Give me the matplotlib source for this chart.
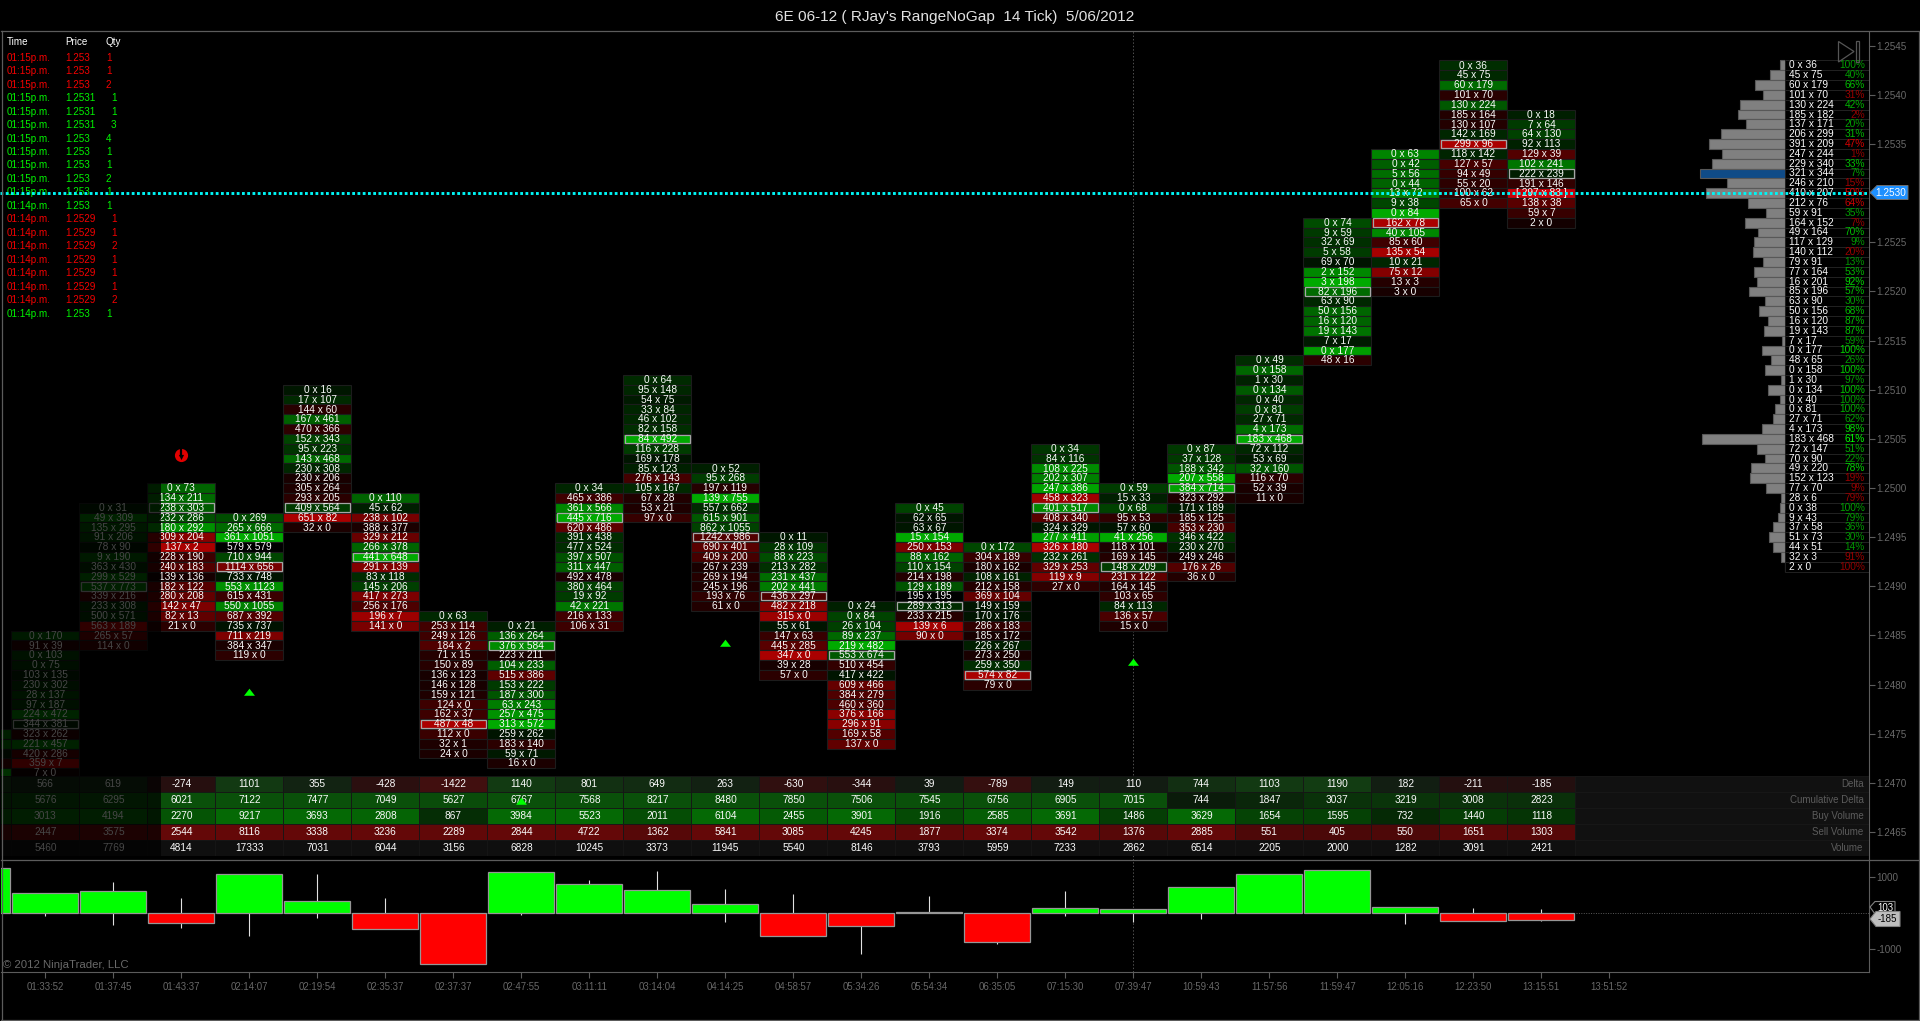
import matplotlib
matplotlib.use("Agg")
import matplotlib.pyplot as plt
from matplotlib.lines import Line2D
from matplotlib.patches import Polygon, Rectangle
from matplotlib.transforms import Affine2D, blended_transform_factory

plt.rcParams['font.family'] = ['Liberation Sans', 'DejaVu Sans']

W, H = 1920, 1021
TICK = 0.0001

# ---------- data ----------
title = "6E 06-12 ( RJay's RangeNoGap  14 Tick)  5/06/2012"

col_top_price = [1.2475, 1.2485, 1.2498, 1.2500, 1.2497, 1.2510, 1.2499, 1.2487, 1.2486, 1.2500, 1.2511, 1.2502,
                 1.2495, 1.2488, 1.2498, 1.2494, 1.2504, 1.2500, 1.2504, 1.2513, 1.2527, 1.2534, 1.2543, 1.2538]

col_m1 = "20x80 30x90 40x45 60x30 10x110"
col_0 = "0x170 91x39 0x103 0x75 103x135 230x302 28x137 97x187 224x472 344x381 323x262 221x457 420x286 359x7 7x0"
col_1 = "0x31 49x309 135x295 91x206 78x90 9x190 363x430 299x529 537x773 339x216 233x308 500x571 563x189 265x57 114x0"
col_2 = "0x73 134x211 238x303 232x286 180x292 309x204 137x2 228x190 240x183 139x136 182x122 280x208 142x47 82x13 21x0"
col_3 = "0x269 265x666 361x1051 579x579 710x944 1114x656 733x748 553x1123 615x431 550x1055 687x392 735x737 711x219 384x347 119x0"
col_4 = "0x16 17x107 144x60 167x461 470x366 152x343 95x223 143x468 230x308 230x206 305x264 293x205 409x564 651x82 32x0"
col_5 = "0x110 45x62 238x102 388x377 329x212 266x378 441x648 291x139 83x118 145x206 417x273 256x176 196x7 141x0"
col_6 = "0x63 253x114 249x126 184x2 71x15 150x89 136x123 146x128 159x121 124x0 162x37 487x48 112x0 32x1 24x0"
col_7 = "0x21 136x264 376x584 223x211 104x233 515x386 153x222 187x300 63x243 257x475 313x572 259x262 183x140 59x71 16x0"
col_8 = "0x34 465x386 361x566 445x716 620x486 391x438 477x524 397x507 311x447 492x478 380x464 19x92 42x221 216x133 106x31"
col_9 = "0x64 95x148 54x75 33x84 46x102 82x158 84x492 116x228 169x178 85x123 276x143 105x167 67x28 53x21 97x0"
col_10 = "0x52 95x268 197x119 139x755 557x662 615x901 862x1055 1242x986 690x401 409x200 267x239 269x194 245x196 193x76 61x0"
col_11 = "0x11 28x109 88x223 213x282 231x437 202x441 436x297 482x218 315x0 55x61 147x63 445x285 347x0 39x28 57x0"
col_12 = "0x24 0x84 26x104 89x237 219x482 553x674 510x454 417x422 609x466 384x279 460x360 376x166 296x91 169x58 137x0"
col_13 = "0x45 62x65 63x67 15x154 250x153 88x162 110x154 214x198 129x189 195x195 289x313 233x215 139x6 90x0"
col_14 = "0x172 304x189 180x162 108x161 212x158 369x104 149x159 170x176 286x183 185x172 226x267 273x250 259x350 574x82 79x0"
col_15 = "0x34 84x116 108x225 202x307 247x386 458x323 401x517 408x340 324x329 277x411 326x180 232x261 329x253 119x9 27x0"
col_16 = "0x59 15x33 0x68 95x53 57x60 41x256 118x101 169x145 148x209 231x122 164x145 103x65 84x113 136x57 15x0"
col_17 = "0x87 37x128 188x342 207x558 384x714 323x292 171x189 185x125 353x230 346x422 230x270 249x246 176x26 36x0"
col_18 = "0x49 0x158 1x30 0x134 0x40 0x81 27x71 4x173 183x468 72x112 53x69 32x160 116x70 52x39 11x0"
col_19 = "0x74 9x59 32x69 5x58 69x70 2x152 3x198 82x196 63x90 50x156 16x120 19x143 7x17 0x177 48x16"
col_20 = "0x63 0x42 5x56 0x44 13x72 9x38 0x84 162x78 40x105 85x60 135x54 10x21 75x12 13x3 3x0"
col_21 = "0x36 45x75 60x179 101x70 130x224 185x164 130x107 142x169 299x96 118x142 127x57 94x49 55x20 100x62 65x0"
col_22 = "0x18 7x64 64x130 92x113 129x39 102x241 222x239 191x146 297x83 138x38 59x7 2x0"
ladders = [col_m1, col_0, col_1, col_2, col_3, col_4, col_5, col_6, col_7, col_8, col_9, col_10, col_11,
           col_12, col_13, col_14, col_15, col_16, col_17, col_18, col_19, col_20, col_21, col_22]

profile_top_price = 1.2543
profile_bid = [0, 45, 60, 101, 130, 185, 137, 206, 391, 247, 229, 321, 246, 410, 212, 59, 164, 49, 117, 140, 79, 77, 16,
               85, 63, 50, 16, 19, 7, 0, 48, 0, 1, 0, 0, 0, 27, 4, 183, 72, 70, 49, 152, 77, 28, 0, 9, 37, 51, 44, 32, 2]
profile_ask = [36, 75, 179, 70, 224, 182, 171, 299, 209, 244, 340, 344, 210, 207, 76, 91, 152, 164, 129, 112, 91, 164, 201,
               196, 90, 156, 120, 143, 17, 177, 65, 158, 30, 134, 40, 81, 71, 173, 468, 147, 90, 220, 123, 70, 6, 38, 43, 58, 73, 51, 3, 0]

delta = [1250, 566, 619, -274, 1101, 355, -428, -1422, 1140, 801, 649, 263, -630, -344, 39, -789, 149, 110, 744, 1103, 1190, 182, -211, -185]
delta_high = [1250, 566, 861, 417, 1101, 1083, 417, 0, 1140, 917, 1176, 667, 528, 0, 481, 0, 620, 110, 744, 1103, 1190, 182, 139, 111]
delta_low = [0, -65, -314, -398, -620, -120, -428, -1422, -37, 0, 0, -240, -630, -1120, 0, -852, -74, -240, -148, 0, 0, -287, -211, -213]
cum_delta = [5110, 5676, 6295, 6021, 7122, 7477, 7049, 5627, 6767, 7568, 8217, 8480, 7850, 7506, 7545, 6756, 6905, 7015, 744, 1847, 3037, 3219, 3008, 2823]
buy_volume = [2500, 3013, 4194, 2270, 9217, 3693, 2808, 867, 3984, 5523, 2011, 6104, 2455, 3901, 1916, 2585, 3691, 1486, 3629, 1654, 1595, 732, 1440, 1118]
sell_volume = [1250, 2447, 3575, 2544, 8116, 3338, 3236, 2289, 2844, 4722, 1362, 5841, 3085, 4245, 1877, 3374, 3542, 1376, 2885, 551, 405, 550, 1651, 1303]
total_volume = [3750, 5460, 7769, 4814, 17333, 7031, 6044, 3156, 6828, 10245, 3373, 11945, 5540, 8146, 3793, 5959, 7233, 2862, 6514, 2205, 2000, 1282, 3091, 2421]
table_labels = ["Delta", "Cumulative Delta", "Buy Volume", "Sell Volume", "Volume"]

time_labels = ["01:33:52", "01:37:45", "01:43:37", "02:14:07", "02:19:54", "02:35:37", "02:37:37", "02:47:55", "03:11:11",
               "03:14:04", "04:14:25", "04:58:57", "05:34:26", "05:54:34", "06:35:05", "07:15:30", "07:39:47", "10:59:43",
               "11:57:56", "11:59:47", "12:05:16", "12:23:50", "13:15:51", "13:51:52"]

trade_times = ["01:15p.m."] * 11 + ["01:14p.m."] * 9
trade_prices = ["1.253", "1.253", "1.253", "1.2531", "1.2531", "1.2531", "1.253", "1.253", "1.253", "1.253", "1.253",
                "1.253", "1.2529", "1.2529", "1.2529", "1.2529", "1.2529", "1.2529", "1.2529", "1.253"]
trade_qty = [1, 1, 2, 1, 1, 3, 4, 1, 1, 2, 1, 1, 1, 1, 2, 1, 1, 1, 2, 1]
trade_buy = [0, 0, 0, 1, 1, 1, 1, 1, 1, 1, 1, 1, 0, 0, 0, 0, 0, 0, 0, 1]

last_price = 1.2530
up_signal_cols = [3, 10, 16]
up_signal_prices = [1.24793, 1.24842, 1.24823]
down_signal_col = 2
down_signal_price = 1.25034
price_ticks = [1.2545, 1.2540, 1.2535, 1.2530, 1.2525, 1.2520, 1.2515, 1.2510, 1.2505, 1.2500, 1.2495, 1.2490,
               1.2485, 1.2480, 1.2475, 1.2470, 1.2465]
delta_ticks = [1000, -1000]

# ---------- geometry ----------
X0, XSTEP = 45.4, 68.0
Y0, YSTEP = 45.7, 9.83
L, R = 1.0, 1868.5
TOP, SEP, PANEL_BOTTOM = 31.5, 859.5, 971.5
FS = 7.3
UP_TRIANGLE = [(-1, -0.6), (1, -0.6), (0, 0.7)]


def col_of(px):
    return (px - X0) / XSTEP


def price_of(py):
    return 1.2545 - (py - Y0) / YSTEP * TICK


def rect(px_left, py_top, px_right, py_bottom):
    return [px_left / W, 1 - py_bottom / H, (px_right - px_left) / W, (py_bottom - py_top) / H]


def grey(v):
    return (v / 255, v / 255, v / 255)


def rgb(r, g, b):
    return (r / 255, g / 255, b / 255)


BG = "black"
TXT = rgb(250, 250, 250)
AX = grey(92)
LBL = grey(104)
CELL_EDGE = grey(28)

fig = plt.figure(figsize=(W / 100, H / 100), dpi=100, facecolor=BG)
to_px = Affine2D().scale(1 / W, -1 / H).translate(0, 1) + fig.transFigure

# ---------- main price axes ----------
ax = fig.add_axes(rect(L, TOP, R, SEP), facecolor=BG, zorder=1)
ax.set_xlim(col_of(L), col_of(R))
ax.set_ylim(price_of(SEP), price_of(TOP))
ax.set_xticks([])
ax.set_yticks(price_ticks)
ax.set_yticklabels([f"{p:.4f}" for p in price_ticks], fontsize=7.1, color=LBL)
ax.yaxis.tick_right()
ax.tick_params(axis='y', length=4.5, width=0.8, color=AX, pad=1.0)
for s in ["left", "top", "bottom"]:
    ax.spines[s].set_visible(False)
ax.spines["right"].set_color(AX)
ax.axvline(16, color=grey(80), lw=0.7, ls=(0, (1.5, 2)), zorder=0.5)


def cell_colour(b, a, m):
    d = a - b
    if d == 0 or m == 0:
        return (0, 0, 0)
    v = (18 + 152 * abs(d) / m) / 255
    return (0, v, 0) if d > 0 else (v, 0, 0)


for i, text in enumerate(ladders):
    col = i - 1
    pairs = [tuple(int(v) for v in r.split("x")) for r in text.split()]
    m = max(abs(a - b) for b, a in pairs)
    vol = [a + b for b, a in pairs]
    poc = vol.index(max(vol))
    for j, (b, a) in enumerate(pairs):
        p = col_top_price[i] - j * TICK
        is_last = col == 22 and abs(p - last_price) < TICK / 2
        fc = rgb(200, 0, 10) if is_last else cell_colour(b, a, m)
        ax.bar(col, TICK, bottom=p - TICK / 2, width=1.0, color=fc, edgecolor=CELL_EDGE, linewidth=0.8, zorder=2)
        if col >= 0:
            label = f"[ {b} x {a} ]" if is_last else f"{b} x {a}"
            ax.text(col, p - 0.02 * TICK, label, ha="center", va="center", color=TXT, fontsize=FS, zorder=5)
    if col >= 0:
        pp = col_top_price[i] - poc * TICK
        ax.bar(col, TICK * 0.86, bottom=pp - TICK * 0.43, width=0.965, color="none",
               edgecolor=grey(165), linewidth=0.9, zorder=4)

ax.scatter(up_signal_cols, up_signal_prices, marker=UP_TRIANGLE, s=62, color=rgb(0, 255, 0), linewidths=0, zorder=6)
ax.scatter([down_signal_col], [down_signal_price], marker="o", s=90, color=rgb(225, 0, 0), linewidths=0, zorder=6)
ax.scatter([down_signal_col], [down_signal_price - 0.25 * TICK], marker="v", s=14, color="black", linewidths=0, zorder=7)
ax.vlines(down_signal_col, down_signal_price - 0.2 * TICK, down_signal_price + 0.75 * TICK, color="black", lw=1.6, zorder=7)

ax.add_patch(Rectangle((col_of(L), price_of(SEP)), col_of(161) - col_of(L), price_of(TOP) - price_of(SEP),
                       facecolor="black", alpha=0.72, edgecolor="none", zorder=5.5))

# ---------- volume profile ----------
ax_prof = fig.add_axes(rect(1620, TOP, 1785, SEP), zorder=2)
ax_prof.patch.set_visible(False)
ax_prof.set_axis_off()
ax_prof.set_xlim(165 / 0.1275, 0)
ax_prof.set_ylim(ax.get_ylim())
prof_prices = [profile_top_price - k * TICK for k in range(len(profile_bid))]
prof_vol = [b + a for b, a in zip(profile_bid, profile_ask)]
prof_cols = [rgb(15, 75, 135) if v == max(prof_vol) else grey(128) for v in prof_vol]
ax_prof.barh(prof_prices, prof_vol, height=TICK, color=prof_cols, edgecolor=grey(88), linewidth=0.8)

ax_ptxt = fig.add_axes(rect(1785, TOP, R, SEP), zorder=2)
ax_ptxt.patch.set_visible(False)
ax_ptxt.set_axis_off()
ax_ptxt.set_xlim(0, R - 1785)
ax_ptxt.set_ylim(ax.get_ylim())
ax_ptxt.barh(prof_prices, R - 1785, left=0, height=TICK, color="black", edgecolor=grey(34), linewidth=0.7)
max_d = max(abs(a - b) for b, a in zip(profile_bid, profile_ask))
for p, b, a in zip(prof_prices, profile_bid, profile_ask):
    ax_ptxt.text(4, p, f"{b} x {a}", ha="left", va="center", fontsize=FS, color=TXT)
    pct = round(abs(a - b) / max(a, b) * 100)
    v = (145 + 110 * abs(a - b) / max_d) / 255
    ax_ptxt.text(80, p, f"{pct}%", ha="right", va="center", fontsize=FS,
                 color=(0, v, 0) if a > b else (v, 0, 0))

# ---------- table ----------
ax_tab = fig.add_axes(rect(L, 775.6, R, 855.6), zorder=3)
ax_tab.patch.set_visible(False)
ax_tab.set_axis_off()
ax_tab.set_xlim(ax.get_xlim())
ax_tab.set_ylim(5, 0)


def tab_colour(row, v):
    if row == 0:
        s = (25 + 35 * min(1, abs(v) / 1200)) / 255
        return (0.07, s, 0.07) if v >= 0 else (s + 0.02, 0.06, 0.06)
    if row == 1:
        return (0.04, (20 + 60 * min(1, abs(v) / 6000)) / 255, 0.04)
    if row == 2:
        return (0.02, (20 + 85 * min(1, v / 3000)) / 255, 0.02)
    if row == 3:
        return ((70 + 30 * min(1, v / 2500)) / 255, 0.03, 0.03)
    return grey(15)


for r, series in enumerate([delta, cum_delta, buy_volume, sell_volume, total_volume]):
    for k, v in enumerate(series):
        ax_tab.bar(k - 1, 1, bottom=r, width=1.0, color=tab_colour(r, v), edgecolor=grey(22), linewidth=0.6, zorder=2)
        if k > 0:
            ax_tab.text(k - 1, r + 0.5, str(v), ha="center", va="center", color=TXT, fontsize=FS, zorder=3)
    ax_tab.bar((22.5 + col_of(R)) / 2, 1, bottom=r, width=col_of(R) - 22.5, color=grey(17), edgecolor=grey(24), linewidth=0.6, zorder=2)
    ax_tab.text(col_of(1863.5), r + 0.5, table_labels[r], ha="right", va="center", color=grey(92), fontsize=7.0, zorder=3)
ax_tab.add_patch(Rectangle((col_of(L), 0), col_of(161) - col_of(L), 5, facecolor="black", alpha=0.72, edgecolor="none", zorder=4))
ax_tab.scatter([7], [1.6], marker=UP_TRIANGLE, s=62, color=rgb(0, 255, 0), linewidths=0, zorder=5)

# ---------- delta panel ----------
ax_d = fig.add_axes(rect(L, SEP, R, PANEL_BOTTOM), facecolor=BG, zorder=1)
ax_d.set_xlim(ax.get_xlim())
ax_d.set_ylim((913.3 - PANEL_BOTTOM) / 36 * 1000, (913.3 - SEP) / 36 * 1000)
cols = list(range(-1, 23))
ax_d.axhline(0, color=grey(90), lw=0.7, ls=(0, (1, 1.5)), zorder=1)
ax_d.axvline(16, color=grey(80), lw=0.7, ls=(0, (1.5, 2)), zorder=0.5)
ax_d.vlines(cols, delta_low, delta_high, color=grey(225), lw=0.8, zorder=2)
ax_d.bar(cols, delta, width=66 / 68, color=[rgb(0, 255, 0) if d > 0 else rgb(255, 0, 0) for d in delta],
         edgecolor=grey(150), linewidth=0.9, zorder=3)
ax_d.set_xticks(range(len(time_labels)))
ax_d.set_xticklabels(time_labels, fontsize=6.9, color=LBL)
ax_d.set_yticks(delta_ticks)
ax_d.set_yticklabels([str(t) for t in delta_ticks], fontsize=7.1, color=LBL)
ax_d.yaxis.tick_right()
ax_d.tick_params(axis='y', length=4.5, width=0.8, color=AX, pad=1.0)
ax_d.tick_params(axis='x', length=4.5, width=0.8, color=AX, pad=3)
for s in ["left", "top"]:
    ax_d.spines[s].set_visible(False)
ax_d.spines["right"].set_color(AX)
ax_d.spines["bottom"].set_color(AX)

# ---------- title, copyright, trade list ----------
fig.text(955 / W, 1 - 16.5 / H, title, ha="center", va="center", color=grey(225), fontsize=11.1)
fig.text(3 / W, 1 - 965 / H, "\u00a9 2012 NinjaTrader, LLC", ha="left", va="center", color=grey(105), fontsize=8.2, zorder=6)

fig.text(7 / W, 1 - 42 / H, "Time", color="white", fontsize=7.1, va="center")
fig.text(65 / W, 1 - 42 / H, "Price", color="white", fontsize=7.1, va="center")
fig.text(106 / W, 1 - 42 / H, "Qty", color="white", fontsize=7.1, va="center")
for i, (t, p, q, b) in enumerate(zip(trade_times, trade_prices, trade_qty, trade_buy)):
    y = 1 - (57.7 + 13.47 * i) / H
    c = rgb(0, 245, 0) if b else rgb(245, 0, 0)
    fig.text(7 / W, y, t, color=c, fontsize=7.1, va="center")
    fig.text(65 / W, y, p, color=c, fontsize=7.1, va="center")
    fig.text((111 if len(p) > 5 else 106) / W, y, str(q), color=c, fontsize=7.1, va="center")

# ---------- last price line and chrome ----------
blend = blended_transform_factory(fig.transFigure, ax.transData)
fig.add_artist(Line2D([0, R / W], [last_price, last_price], transform=blend, color=rgb(0, 245, 245), lw=2.1,
                      ls=(0, (0.95, 0.85)), dash_capstyle="butt", zorder=5))
for xs, ys in [([1, 1918], [31.5, 31.5]), ([1.5, 1.5], [31, 1020]), ([1918.5, 1918.5], [31, 1020]),
               ([1, 1918], [1020, 1020]), ([R, 1918], [SEP, SEP]), ([1, R], [SEP, SEP])]:
    fig.add_artist(Line2D(xs, ys, transform=to_px, color=AX, lw=0.9, zorder=6))

fig.add_artist(Polygon([(1870, 192.5), (1877, 185.5), (1908, 185.5), (1908, 199.5), (1877, 199.5)], closed=True,
                       transform=to_px, facecolor=rgb(30, 144, 255), edgecolor=grey(110), lw=0.7, zorder=7))
fig.text(1891 / W, 1 - 192.5 / H, f"{last_price:.4f}", color="white", fontsize=7.2, ha="center", va="center", zorder=8)

fig.add_artist(Polygon([(1838.5, 41.5), (1854, 51.5), (1838.5, 62)], closed=True, transform=to_px, facecolor="none",
                       edgecolor=grey(85), lw=0.9, zorder=7))
fig.add_artist(Rectangle((1855.5, 41.5), 3, 20.5, transform=to_px, facecolor="none", edgecolor=grey(85), lw=0.9, zorder=7))

fig.add_artist(Polygon([(1870, 907), (1875, 901.5), (1895, 901.5), (1895, 914), (1875, 914)], closed=True,
                       transform=to_px, facecolor="black", edgecolor=grey(130), lw=0.8, zorder=7))
fig.text(1885 / W, 1 - 907.5 / H, "103", color="white", fontsize=7, ha="center", va="center", zorder=8)
fig.add_artist(Polygon([(1870, 919), (1876, 911.5), (1900, 911.5), (1900, 926.5), (1876, 926.5)], closed=True,
                       transform=to_px, facecolor=grey(190), edgecolor=grey(130), lw=0.8, zorder=9))
fig.text(1887 / W, 1 - 919 / H, "-185", color="black", fontsize=7, ha="center", va="center", zorder=10)

fig.savefig("out.png", dpi=100, facecolor=BG)
